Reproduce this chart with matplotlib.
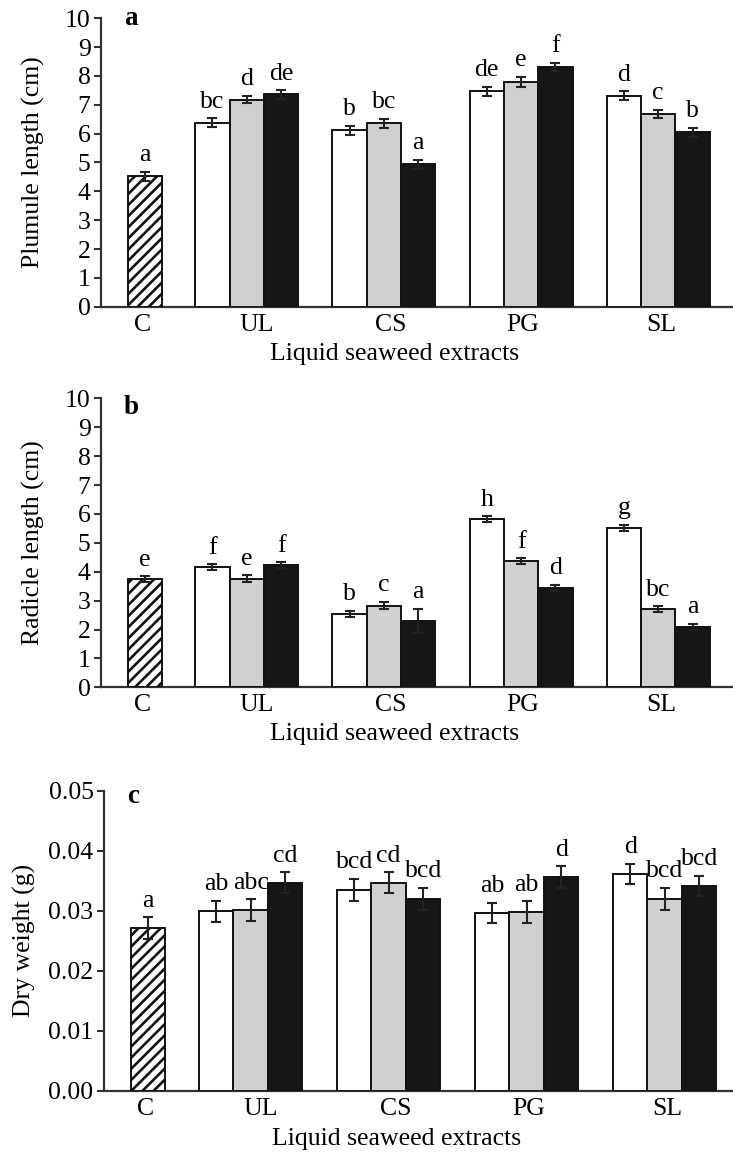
import matplotlib
matplotlib.use('Agg')
import matplotlib.pyplot as plt

plt.rcParams['font.family'] = ['Liberation Serif', 'DejaVu Serif']
plt.rcParams['hatch.linewidth'] = 1.9

# categories: control first, then the four extracts (three concentrations each)
categories = ['C', 'UL', 'CS', 'PG', 'SL']
extracts = ['UL', 'CS', 'PG', 'SL']

# panel a - plumule length (cm)
plumule_ctrl = 4.52
plumule_ctrl_err = 0.15
plumule_ctrl_letter = 'a'
plumule_white = [6.38, 6.12, 7.47, 7.32]
plumule_gray = [7.18, 6.36, 7.80, 6.68]
plumule_black = [7.36, 4.94, 8.31, 6.05]
plumule_white_err = [0.15, 0.15, 0.15, 0.15]
plumule_gray_err = [0.13, 0.15, 0.17, 0.15]
plumule_black_err = [0.15, 0.15, 0.15, 0.15]
plumule_white_let = ['bc', 'b', 'de', 'd']
plumule_gray_let = ['d', 'bc', 'e', 'c']
plumule_black_let = ['de', 'a', 'f', 'b']

# panel b - radicle length (cm)
radicle_ctrl = 3.74
radicle_ctrl_err = 0.10
radicle_ctrl_letter = 'e'
radicle_white = [4.15, 2.54, 5.82, 5.52]
radicle_gray = [3.76, 2.83, 4.37, 2.70]
radicle_black = [4.23, 2.30, 3.44, 2.10]
radicle_white_err = [0.10, 0.10, 0.10, 0.10]
radicle_gray_err = [0.12, 0.12, 0.10, 0.10]
radicle_black_err = [0.10, 0.42, 0.10, 0.10]
radicle_white_let = ['f', 'b', 'h', 'g']
radicle_gray_let = ['e', 'c', 'f', 'bc']
radicle_black_let = ['f', 'a', 'd', 'a']

# panel c - dry weight (g)
dry_ctrl = 0.0271
dry_ctrl_err = 0.0018
dry_ctrl_letter = 'a'
dry_white = [0.0299, 0.0335, 0.0296, 0.0361]
dry_gray = [0.0301, 0.0347, 0.0298, 0.0320]
dry_black = [0.0347, 0.0320, 0.0356, 0.0341]
dry_white_err = [0.0018, 0.0018, 0.0017, 0.0017]
dry_gray_err = [0.0018, 0.0017, 0.0018, 0.0018]
dry_black_err = [0.0017, 0.0018, 0.0018, 0.0017]
dry_white_let = ['ab', 'bcd', 'ab', 'd']
dry_gray_let = ['abc', 'cd', 'ab', 'bcd']
dry_black_let = ['cd', 'bcd', 'd', 'bcd']

FS = 18.5
GRAY = '#cfd0d0'
BLACK = '#161616'


def draw_panel(ax, ctrl, ctrl_err, ctrl_let, series, ylim, yticks, ytick_fmt,
               ylabel, ylabel_x, panel_letter, letter_y, xlim_right):
    ctrl_x = 1.28
    centers = [4.25 + 4 * i for i in range(len(extracts))]
    err_kw = dict(fmt='none', ecolor='#222222', elinewidth=1.5, capsize=3.5, capthick=1.5, zorder=4)

    # control bar (hatched)
    ax.bar(ctrl_x, ctrl, width=1.0, color='white', edgecolor='#111111', hatch='///',
           linewidth=1.4, zorder=3)
    ax.errorbar(ctrl_x, ctrl, yerr=ctrl_err, **err_kw)
    ax.annotate(ctrl_let, (ctrl_x, ctrl + ctrl_err), xytext=(0, 4),
                textcoords='offset points', ha='center', va='bottom', fontsize=FS)

    # three concentrations per extract
    for k, (vals, errs, lets, col) in enumerate(series):
        xs = [c + (k - 1) for c in centers]
        ax.bar(xs, vals, width=1.0, color=col, edgecolor='#111111', linewidth=1.4, zorder=3)
        ax.errorbar(xs, vals, yerr=errs, **err_kw)
        for x, v, e, t in zip(xs, vals, errs, lets):
            ax.annotate(t, (x, v + e), xytext=(0, 4), textcoords='offset points',
                        ha='center', va='bottom', fontsize=FS)

    ax.set_xlim(0, xlim_right)
    ax.set_ylim(*ylim)
    ax.set_yticks(yticks)
    ax.set_yticklabels([ytick_fmt.format(t) for t in yticks])
    ax.set_xticks([1.2, 4.55, 8.45, 12.3, 16.33])
    ax.set_xticklabels(categories)
    ax.tick_params(axis='x', length=0, labelsize=FS, pad=5)
    ax.tick_params(axis='y', length=5, width=1.5, labelsize=FS, pad=2.5, color='#333333')
    for s in ['top', 'right']:
        ax.spines[s].set_visible(False)
    for s in ['left', 'bottom']:
        ax.spines[s].set_linewidth(1.6)
        ax.spines[s].set_color('#333333')
    ax.set_ylabel(ylabel, fontsize=FS)
    ax.yaxis.set_label_coords(ylabel_x, 0.5)
    ax.set_xlabel('Liquid seaweed extracts', fontsize=FS)
    ax.xaxis.set_label_coords(0.465, -0.125)
    ax.text(0.036, letter_y, panel_letter, transform=ax.transAxes, fontsize=FS + 1,
            fontweight='bold', ha='left', va='baseline')


W, H = 733.0, 1155.0
fig = plt.figure(figsize=(W / 100, H / 100), dpi=100)

# axes boxes in pixels: left, top (y max), bottom (y=0)
ax_a = fig.add_axes([101 / W, 1 - 306.7 / H, 632 / W, 288.4 / H])
ax_b = fig.add_axes([101 / W, 1 - 687.3 / H, 632 / W, 289.0 / H])
ax_c = fig.add_axes([104 / W, 1 - 1090.7 / H, 629 / W, 300.0 / H])

draw_panel(ax_a, plumule_ctrl, plumule_ctrl_err, plumule_ctrl_letter,
           [(plumule_white, plumule_white_err, plumule_white_let, 'white'),
            (plumule_gray, plumule_gray_err, plumule_gray_let, GRAY),
            (plumule_black, plumule_black_err, plumule_black_let, BLACK)],
           (0, 10), list(range(0, 11)), '{:d}', 'Plumule length (cm)', -0.089, 'a', 0.977, 18.43)

draw_panel(ax_b, radicle_ctrl, radicle_ctrl_err, radicle_ctrl_letter,
           [(radicle_white, radicle_white_err, radicle_white_let, 'white'),
            (radicle_gray, radicle_gray_err, radicle_gray_let, GRAY),
            (radicle_black, radicle_black_err, radicle_black_let, BLACK)],
           (0, 10), list(range(0, 11)), '{:d}', 'Radicle length (cm)', -0.089, 'b', 0.945, 18.43)

draw_panel(ax_c, dry_ctrl, dry_ctrl_err, dry_ctrl_letter,
           [(dry_white, dry_white_err, dry_white_let, 'white'),
            (dry_gray, dry_gray_err, dry_gray_let, GRAY),
            (dry_black, dry_black_err, dry_black_let, BLACK)],
           (0, 0.05), [0.0, 0.01, 0.02, 0.03, 0.04, 0.05], '{:.2f}', 'Dry weight (g)', -0.108, 'c', 0.96, 18.23)

fig.savefig('out.png', dpi=100)
print("plot saved")
